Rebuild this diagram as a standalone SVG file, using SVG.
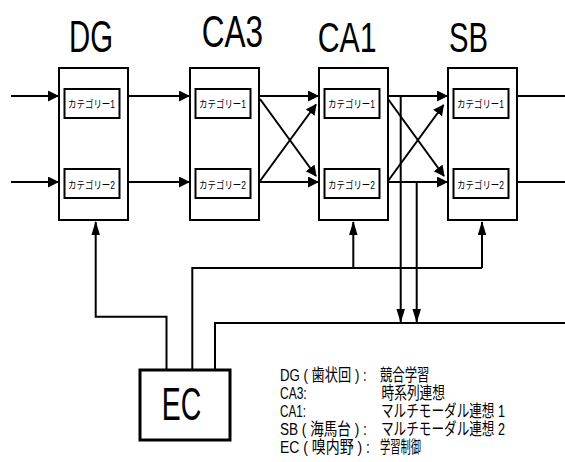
<svg xmlns="http://www.w3.org/2000/svg" width="565" height="462" viewBox="0 0 565 462">
<style>
.bx{fill:#fff;stroke:#000;stroke-width:2}
.ln{fill:none;stroke:#000;stroke-width:2}
.t{font-family:"Liberation Sans","Noto Sans CJK JP",sans-serif;fill:#000}
.ti{font-size:44px}
.c{font-size:10.5px}
.lg{font-size:15px}
</style>
<defs>
<marker id="ah" markerUnits="userSpaceOnUse" markerWidth="12" markerHeight="12" refX="10" refY="5.5" orient="auto"><path d="M0,0 L11,5.5 L0,11 z" fill="#000"/></marker>
<marker id="av" markerUnits="userSpaceOnUse" markerWidth="15" markerHeight="9" refX="13" refY="4.25" orient="auto"><path d="M0,0 L14,4.25 L0,8.5 z" fill="#000"/></marker>
</defs>
<rect width="565" height="462" fill="#fff"/>

<g id="connectors">
<path class="ln" d="M11,96H58" marker-end="url(#ah)"/>
<path class="ln" d="M11,182H58" marker-end="url(#ah)"/>
<path class="ln" d="M128,96H189" marker-end="url(#ah)"/>
<path class="ln" d="M128,182H189" marker-end="url(#ah)"/>
<path class="ln" d="M259,96H318" marker-end="url(#ah)"/>
<path class="ln" d="M259,182H318" marker-end="url(#ah)"/>
<path class="ln" d="M260,99L316,176" marker-end="url(#ah)"/>
<path class="ln" d="M260,181L316,104.5" marker-end="url(#ah)"/>
<path class="ln" d="M388,96H447" marker-end="url(#ah)"/>
<path class="ln" d="M388,182H447" marker-end="url(#ah)"/>
<path class="ln" d="M388,99L444,176" marker-end="url(#ah)"/>
<path class="ln" d="M388,181L443.5,105" marker-end="url(#ah)"/>
<path class="ln" d="M517,96H565M517,182H565"/>
<path class="ln" d="M400.7,96V322" marker-end="url(#av)"/>
<path class="ln" d="M416.7,182V322" marker-end="url(#av)"/>
<path class="ln" d="M215,369V323H565"/>
<path class="ln" d="M192.3,369V268H482"/>
<path class="ln" d="M353.3,268V222" marker-end="url(#av)"/>
<path class="ln" d="M482,268V222" marker-end="url(#av)"/>
<path class="ln" d="M166.5,369V316.7H95.7V222" marker-end="url(#av)"/>
</g>

<g id="DG">
<text class="t ti" x="69" y="52" textLength="44" lengthAdjust="spacingAndGlyphs">DG</text>
<rect class="bx" x="59" y="68" width="69" height="152"/>
<rect class="bx" x="64.5" y="89" width="55" height="29"/>
<text class="t c" x="68" y="108.3" textLength="47" lengthAdjust="spacingAndGlyphs">カテゴリー1</text>
<rect class="bx" x="64.5" y="169" width="55" height="29"/>
<text class="t c" x="68" y="189" textLength="47" lengthAdjust="spacingAndGlyphs">カテゴリー2</text>
</g>

<g id="CA3">
<text class="t ti" x="201.7" y="46.7" textLength="61.3" lengthAdjust="spacingAndGlyphs">CA3</text>
<rect class="bx" x="190" y="68" width="69" height="152"/>
<rect class="bx" x="195.5" y="89" width="55" height="29"/>
<text class="t c" x="199" y="108.3" textLength="47" lengthAdjust="spacingAndGlyphs">カテゴリー1</text>
<rect class="bx" x="195.5" y="169" width="55" height="29"/>
<text class="t c" x="199" y="189" textLength="47" lengthAdjust="spacingAndGlyphs">カテゴリー2</text>
</g>

<g id="CA1">
<text class="t ti" x="317.7" y="51.7" style="font-size:42px" textLength="59" lengthAdjust="spacingAndGlyphs">CA1</text>
<rect class="bx" x="319" y="68" width="69" height="152"/>
<rect class="bx" x="324.5" y="89" width="55" height="29"/>
<text class="t c" x="328" y="108.3" textLength="47" lengthAdjust="spacingAndGlyphs">カテゴリー1</text>
<rect class="bx" x="324.5" y="169" width="55" height="29"/>
<text class="t c" x="328" y="189" textLength="47" lengthAdjust="spacingAndGlyphs">カテゴリー2</text>
</g>

<g id="SB">
<text class="t ti" x="449" y="52" style="font-size:42px" textLength="39" lengthAdjust="spacingAndGlyphs">SB</text>
<rect class="bx" x="448" y="68" width="69" height="152"/>
<rect class="bx" x="453.5" y="89" width="55" height="29"/>
<text class="t c" x="457" y="108.3" textLength="47" lengthAdjust="spacingAndGlyphs">カテゴリー1</text>
<rect class="bx" x="453.5" y="169" width="55" height="29"/>
<text class="t c" x="457" y="189" textLength="47" lengthAdjust="spacingAndGlyphs">カテゴリー2</text>
</g>

<g id="EC">
<rect x="140" y="370" width="90" height="70" fill="#fff" stroke="#000" stroke-width="3"/>
<text class="t" x="161.7" y="420" style="font-size:47px" textLength="39.5" lengthAdjust="spacingAndGlyphs">EC</text>
</g>

<g id="legend">
<text class="t lg" transform="matrix(1,0,0,1.15,280,381)" textLength="86.7" lengthAdjust="spacingAndGlyphs">DG ( 歯状回 ) :</text>
<text class="t lg" transform="matrix(1,0,0,1.15,380,381)" textLength="49.3" lengthAdjust="spacingAndGlyphs">競合学習</text>
<text class="t lg" transform="matrix(1,0,0,1.15,280,399)" textLength="26.7" lengthAdjust="spacingAndGlyphs">CA3:</text>
<text class="t lg" transform="matrix(1,0,0,1.15,381.5,399)" textLength="63.5" lengthAdjust="spacingAndGlyphs">時系列連想</text>
<text class="t lg" transform="matrix(1,0,0,1.15,280,416.7)" textLength="26" lengthAdjust="spacingAndGlyphs">CA1:</text>
<text class="t lg" transform="matrix(1,0,0,1.15,381,416.7)" textLength="124" lengthAdjust="spacingAndGlyphs">マルチモーダル連想 1</text>
<text class="t lg" transform="matrix(1,0,0,1.15,280,434.7)" textLength="86.7" lengthAdjust="spacingAndGlyphs">SB ( 海馬台 ) :</text>
<text class="t lg" transform="matrix(1,0,0,1.15,381,434.7)" textLength="124" lengthAdjust="spacingAndGlyphs">マルチモーダル連想 2</text>
<text class="t lg" transform="matrix(1,0,0,1.15,280,452.5)" textLength="90" lengthAdjust="spacingAndGlyphs">EC ( 嗅内野 ) :</text>
<text class="t lg" transform="matrix(1,0,0,1.15,380,452.5)" textLength="41" lengthAdjust="spacingAndGlyphs">学習制御</text>
</g>
</svg>
